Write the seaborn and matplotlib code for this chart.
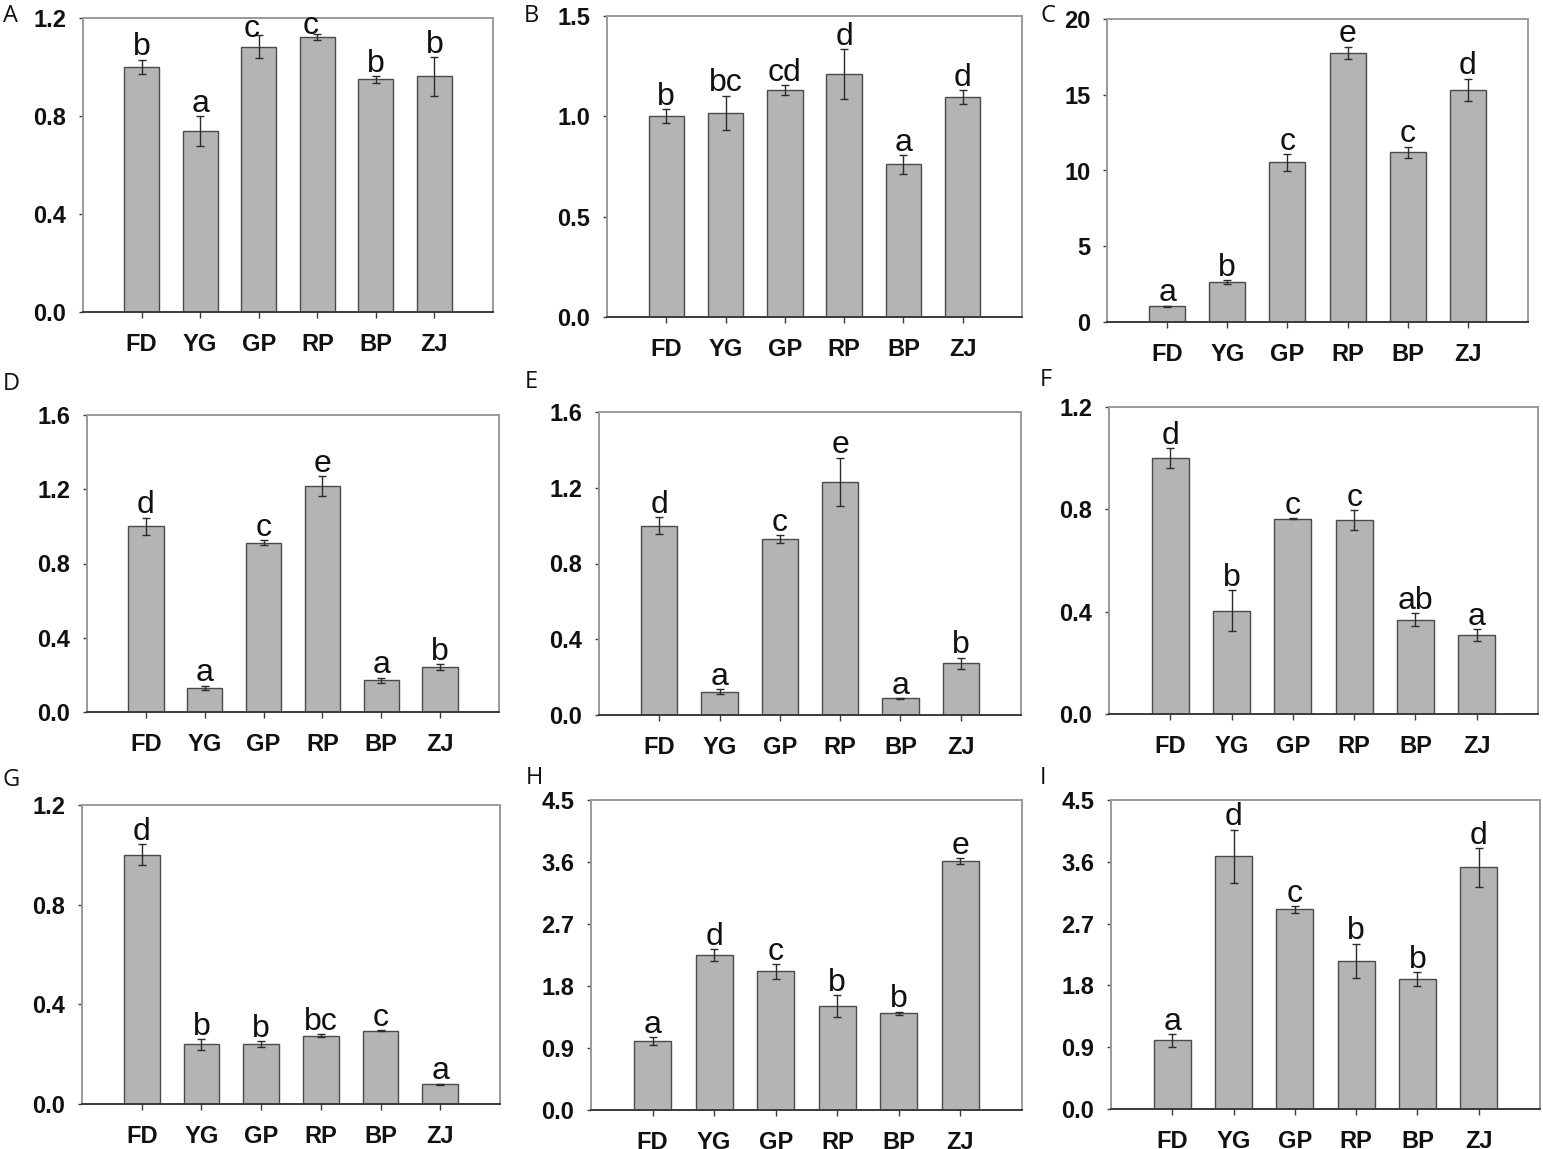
import numpy as np
import pandas as pd
import seaborn as sns
import matplotlib.pyplot as plt
from matplotlib.ticker import FormatStrFormatter

sns.set_style("white")
plt.rcParams['font.family'] = ['Liberation Sans', 'DejaVu Sans']

# groups
groups = ['FD', 'YG', 'GP', 'RP', 'BP', 'ZJ']

# panel values (mean), error (SE) and significance letters
A_val = [1.00, 0.738, 1.083, 1.123, 0.949, 0.962]
A_err = [0.030, 0.060, 0.046, 0.013, 0.015, 0.080]
A_sig = ['b', 'a', 'c', 'c', 'b', 'b']

B_val = [1.00, 1.018, 1.129, 1.211, 0.760, 1.096]
B_err = [0.035, 0.085, 0.025, 0.125, 0.045, 0.033]
B_sig = ['b', 'bc', 'cd', 'd', 'a', 'd']

C_val = [1.03, 2.64, 10.53, 17.78, 11.19, 15.32]
C_err = [0.05, 0.15, 0.57, 0.40, 0.39, 0.75]
C_sig = ['a', 'b', 'c', 'e', 'c', 'd']

D_val = [1.00, 0.129, 0.911, 1.218, 0.170, 0.242]
D_err = [0.047, 0.013, 0.013, 0.052, 0.015, 0.015]
D_sig = ['d', 'a', 'c', 'e', 'a', 'b']

E_val = [1.00, 0.123, 0.927, 1.230, 0.088, 0.273]
E_err = [0.046, 0.013, 0.021, 0.129, 0.003, 0.030]
E_sig = ['d', 'a', 'c', 'e', 'a', 'b']

F_val = [1.00, 0.404, 0.764, 0.758, 0.369, 0.308]
F_err = [0.040, 0.081, 0.003, 0.039, 0.024, 0.024]
F_sig = ['d', 'b', 'c', 'c', 'ab', 'a']

G_val = [1.00, 0.240, 0.240, 0.274, 0.294, 0.079]
G_err = [0.042, 0.022, 0.011, 0.006, 0.003, 0.003]
G_sig = ['d', 'b', 'b', 'bc', 'c', 'a']

H_val = [1.00, 2.248, 2.011, 1.512, 1.405, 3.614]
H_err = [0.056, 0.087, 0.111, 0.155, 0.024, 0.044]
H_sig = ['a', 'd', 'c', 'b', 'b', 'e']

I_val = [1.00, 3.68, 2.91, 2.16, 1.89, 3.52]
I_err = [0.09, 0.39, 0.05, 0.25, 0.10, 0.28]
I_sig = ['a', 'd', 'c', 'b', 'b', 'd']

ylims = {'A': (1.2, 0.4), 'B': (1.5, 0.5), 'C': (20, 5), 'D': (1.6, 0.4), 'E': (1.6, 0.4),
         'F': (1.2, 0.4), 'G': (1.2, 0.4), 'H': (4.5, 0.9), 'I': (4.5, 0.9)}

panels = {'A': (A_val, A_err, A_sig), 'B': (B_val, B_err, B_sig), 'C': (C_val, C_err, C_sig),
          'D': (D_val, D_err, D_sig), 'E': (E_val, E_err, E_sig), 'F': (F_val, F_err, F_sig),
          'G': (G_val, G_err, G_sig), 'H': (H_val, H_err, H_sig), 'I': (I_val, I_err, I_sig)}

# axes boxes in pixels (left, top, right, bottom) and panel label positions
W, H = 1543, 1149
boxes = {'A': (83, 18, 493, 312), 'B': (607, 16, 1022, 317), 'C': (1107, 19, 1528, 322),
         'D': (87, 415, 499, 712), 'E': (599, 412, 1021, 715), 'F': (1109, 407, 1538, 714),
         'G': (82, 805, 500, 1104), 'H': (591, 800, 1022, 1110), 'I': (1111, 800, 1540, 1109)}
labelpos = {'A': (3, 4), 'B': (524, 4), 'C': (1040, 4), 'D': (3, 372), 'E': (525, 370),
            'F': (1040, 368), 'G': (3, 768), 'H': (526, 766), 'I': (1040, 766)}

# letters that sit squeezed under the top of panel A
nudge = {('A', 2): (-5, -1), ('A', 3): (-5, 0)}

fig = plt.figure(figsize=(W / 100, H / 100), dpi=100)

for key, (vals, errs, sigs) in panels.items():
    l, t, r, b = boxes[key]
    ax = fig.add_axes([l / W, 1 - b / H, (r - l) / W, (b - t) / H])
    df = pd.DataFrame({'group': groups, 'value': vals})
    sns.barplot(data=df, x='group', y='value', ax=ax, color='#b4b4b4', saturation=1,
                edgecolor='#4a4a4a', linewidth=1.0, width=0.6, errorbar=None)
    ax.errorbar(np.arange(len(groups)), vals, yerr=errs, fmt='none', ecolor='#2b2b2b',
                elinewidth=1.0, capsize=3, capthick=1.0)
    for i, s in enumerate(sigs):
        dx, dy = nudge.get((key, i), (0, 3))
        ax.annotate(s, xy=(i, vals[i] + errs[i]), xytext=(dx, dy), textcoords='offset points',
                    ha='center', va='baseline', fontsize=23, color='#111111')
    top, step = ylims[key]
    ax.set_xlim(-1, 6)
    ax.set_ylim(0, top)
    ax.set_yticks(np.arange(0, top + step / 2, step))
    if key == 'C':
        ax.yaxis.set_major_formatter(FormatStrFormatter('%d'))
    else:
        ax.yaxis.set_major_formatter(FormatStrFormatter('%.1f'))
    ax.set_xlabel('')
    ax.set_ylabel('')
    for side in ['top', 'right', 'left']:
        ax.spines[side].set_color('#9a9a9a')
        ax.spines[side].set_linewidth(1.4)
    ax.spines['bottom'].set_color('#3a3a3a')
    ax.spines['bottom'].set_linewidth(1.4)
    ax.tick_params(axis='y', direction='out', length=3, width=1, color='#3a3a3a', pad=9,
                   labelsize=17, left=True)
    ax.tick_params(axis='x', direction='out', length=4, width=1, color='#3a3a3a', pad=11,
                   labelsize=17, bottom=True)
    for lab in ax.get_xticklabels() + ax.get_yticklabels():
        lab.set_fontweight('bold')
        lab.set_color('#111111')
    lx, ly = labelpos[key]
    fig.text(lx / W, 1 - ly / H, key, fontsize=17, family=['Open Sans', 'DejaVu Sans'],
             ha='left', va='top', color='#111111')

fig.savefig('out.png', dpi=100)
